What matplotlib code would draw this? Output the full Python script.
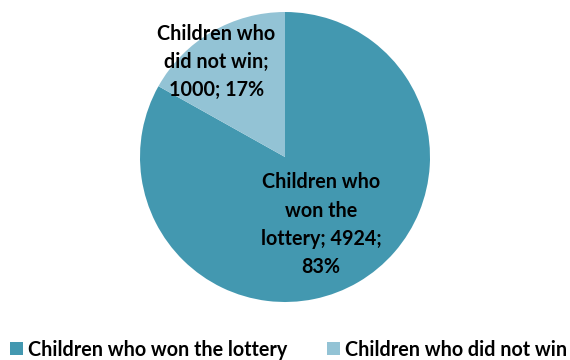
import numpy as np
import matplotlib.pyplot as plt
from matplotlib.patches import Patch

plt.rcParams['font.family'] = ['Lato', 'DejaVu Sans']

categories = ["Children who won the lottery", "Children who did not win"]
counts = [4924, 1000]
slice_labels = ["Children who\nwon the\nlottery; 4924;\n83%",
                "Children who\ndid not win;\n1000; 17%"]
colors = ["#4398B0", "#93C3D5"]

fig = plt.figure(figsize=(5.7, 3.6), dpi=100)
ax = fig.add_axes([140 / 570, 58 / 360, 290 / 570, 290 / 360])

wedges, _ = ax.pie(counts, colors=colors, startangle=90, counterclock=False,
                   radius=1.0)
ax.set_xlim(-1, 1)
ax.set_ylim(-1, 1)
ax.set_aspect('auto')

# put each label inside its slice, near the slice's middle angle
label_radius = [0.53, 0.81]
label_shift = [-2.4, 5.5]
for w, txt, r, sh in zip(wedges, slice_labels, label_radius, label_shift):
    mid = np.deg2rad((w.theta1 + w.theta2) / 2 + sh)
    ax.text(r * np.cos(mid), r * np.sin(mid), txt, ha='center', va='center',
            fontsize=14.2, fontweight='bold', color='black', linespacing=1.52)

handles = [Patch(facecolor=c, edgecolor='none') for c in colors]
fig.legend(handles, categories, loc='center', bbox_to_anchor=(288.5 / 570, 1 - 349.5 / 360),
           ncol=2, frameon=False, prop={'weight': 'bold', 'size': 14.2},
           handlelength=0.66, handleheight=0.66, handletextpad=0.25, columnspacing=2.0,
           borderaxespad=0, borderpad=0)

fig.savefig("out.png", dpi=100)
